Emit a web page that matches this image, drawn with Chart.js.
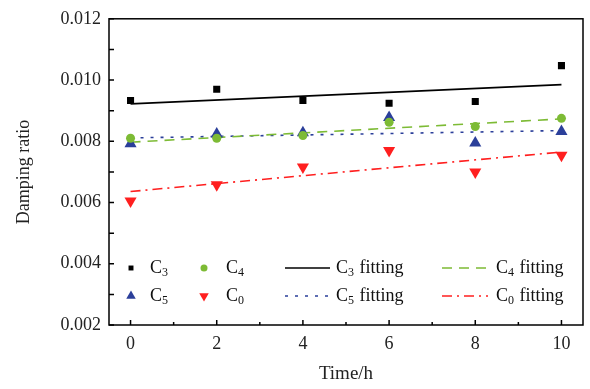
<!DOCTYPE html>
<html>
<head>
<meta charset="utf-8">
<script src="https://cdn.jsdelivr.net/npm/chart.js@4/dist/chart.umd.min.js"></script>
<style>
  html, body { margin: 0; padding: 0; background: #fff; }
  #wrap { width: 590px; height: 389px; }
</style>
</head>
<body>
<div id="wrap"><canvas id="c" width="590" height="389"></canvas></div>
<script>
// measured points (time in h)
var times = [0, 2, 4, 6, 8, 10];
var c3 = [0.00933, 0.0097, 0.00933, 0.00924, 0.0093, 0.01047];
var c4 = [0.0081, 0.0081, 0.00819, 0.00862, 0.00848, 0.00875];
var c5 = [0.00792, 0.00824, 0.00828, 0.00878, 0.00794, 0.00832];
var c0 = [0.00605, 0.00658, 0.00716, 0.0077, 0.0070, 0.00754];

// fitted lines, end points
var fitTimes = [0, 10];
var c3Fit = [0.00922, 0.00985];
var c4Fit = [0.00797, 0.00873];
var c5Fit = [0.00811, 0.00835];
var c0Fit = [0.00636, 0.00765];

var xTicks = [0, 2, 4, 6, 8, 10];
var yTicks = [0.002, 0.004, 0.006, 0.008, 0.010, 0.012];

var FONT = '"Liberation Serif", "Times New Roman", serif';
var GREEN = '#7dbb35';
var BLUE = '#2b3f9a';
var RED = '#ff1f1f';

function pts(xs, ys) {
    return xs.map(function (x, i) { return { x: x, y: ys[i] }; });
}

// inward ticks + closed frame
var frame = {
    id: 'frame',
    afterDraw: function (chart) {
        var ctx = chart.ctx, a = chart.chartArea;
        var xs = chart.scales.x, ys = chart.scales.y;
        ctx.save();
        ctx.strokeStyle = '#000';
        ctx.lineWidth = 1.5;
        ctx.strokeRect(a.left, a.top, a.right - a.left, a.bottom - a.top);
        ctx.beginPath();
        for (var v = 0; v <= 10; v++) {
            var px = xs.getPixelForValue(v);
            var len = v % 2 === 0 ? 5 : 3;
            ctx.moveTo(px, a.bottom);
            ctx.lineTo(px, a.bottom - len);
        }
        for (var k = 2; k <= 12; k++) {
            var py = ys.getPixelForValue(k / 1000);
            ctx.moveTo(a.left, py);
            ctx.lineTo(a.left + 5, py);
        }
        ctx.stroke();
        ctx.restore();
    }
};

function subText(ctx, x, y, base, sub, rest) {
    ctx.font = '18px ' + FONT;
    ctx.fillText(base, x, y);
    x += ctx.measureText(base).width;
    ctx.font = '12px ' + FONT;
    ctx.fillText(sub, x, y + 5);
    x += ctx.measureText(sub).width;
    if (rest) {
        ctx.font = '18px ' + FONT;
        ctx.fillText(rest, x + 1, y);
    }
}

// legend in two rows at the bottom-left of the plot
var legendBox = {
    id: 'legendBox',
    afterDraw: function (chart) {
        var ctx = chart.ctx;
        var rows = [268, 296];
        var H = Chart.helpers;
        ctx.save();
        ctx.fillStyle = '#000';
        ctx.textBaseline = 'middle';

        var marks = [
            { ds: 0, x: 131, tx: 150, row: 0, sub: '3', r: 3.5 },
            { ds: 1, x: 204, tx: 226, row: 0, sub: '4', r: 3.5 },
            { ds: 2, x: 131, tx: 150, row: 1, sub: '5', r: 5.5 },
            { ds: 3, x: 204, tx: 226, row: 1, sub: '0', r: 5.5 }
        ];
        marks.forEach(function (m) {
            var d = chart.data.datasets[m.ds];
            ctx.fillStyle = d.backgroundColor;
            ctx.strokeStyle = d.backgroundColor;
            H.drawPoint(ctx, { pointStyle: d.pointStyle, rotation: d.rotation || 0, radius: m.r, borderWidth: 0 }, m.x, rows[m.row]);
            ctx.fillStyle = '#111';
            subText(ctx, m.tx, rows[m.row], 'C', m.sub);
        });

        var lines = [
            { ds: 4, x0: 285, x1: 330, tx: 336, row: 0, sub: '3' },
            { ds: 5, x0: 442, x1: 488, tx: 496, row: 0, sub: '4' },
            { ds: 6, x0: 285, x1: 330, tx: 336, row: 1, sub: '5' },
            { ds: 7, x0: 442, x1: 488, tx: 496, row: 1, sub: '0' }
        ];
        lines.forEach(function (l) {
            var d = chart.data.datasets[l.ds];
            ctx.strokeStyle = d.borderColor;
            ctx.lineWidth = d.borderWidth;
            ctx.setLineDash(d.borderDash || []);
            ctx.beginPath();
            ctx.moveTo(l.x0, rows[l.row]);
            ctx.lineTo(l.x1, rows[l.row]);
            ctx.stroke();
            ctx.setLineDash([]);
            ctx.fillStyle = '#111';
            subText(ctx, l.tx, rows[l.row], 'C', l.sub, ' fitting');
        });
        ctx.restore();
    }
};

new Chart(document.getElementById('c'), {
    type: 'scatter',
    data: {
        datasets: [
            { label: 'C3', data: pts(times, c3), pointStyle: 'rect', pointRadius: 5, backgroundColor: '#000', borderWidth: 0 },
            { label: 'C4', data: pts(times, c4), pointStyle: 'circle', pointRadius: 4.5, backgroundColor: GREEN, borderWidth: 0 },
            { label: 'C5', data: pts(times, c5), pointStyle: 'triangle', pointRadius: 7, backgroundColor: BLUE, borderWidth: 0 },
            { label: 'C0', data: pts(times, c0), pointStyle: 'triangle', rotation: 180, pointRadius: 7, backgroundColor: RED, borderWidth: 0 },
            { label: 'C3 fitting', data: pts(fitTimes, c3Fit), showLine: true, pointRadius: 0, borderColor: '#000', borderWidth: 1.6 },
            { label: 'C4 fitting', data: pts(fitTimes, c4Fit), showLine: true, pointRadius: 0, borderColor: GREEN, borderWidth: 1.6, borderDash: [10, 7] },
            { label: 'C5 fitting', data: pts(fitTimes, c5Fit), showLine: true, pointRadius: 0, borderColor: BLUE, borderWidth: 1.6, borderDash: [3, 7] },
            { label: 'C0 fitting', data: pts(fitTimes, c0Fit), showLine: true, pointRadius: 0, borderColor: RED, borderWidth: 1.6, borderDash: [10, 5, 2, 5] }
        ]
    },
    options: {
        responsive: false,
        animation: false,
        layout: { padding: { top: 18, right: 4, left: 0, bottom: 0 } },
        plugins: {
            legend: { display: false },
            tooltip: { enabled: false }
        },
        scales: {
            x: {
                type: 'linear',
                min: -0.5,
                max: 10.5,
                afterBuildTicks: function (s) { s.ticks = xTicks.map(function (v) { return { value: v }; }); },
                afterFit: function (s) { s.height = 64; },
                grid: { display: false, drawTicks: false },
                border: { display: false },
                ticks: { color: '#222', font: { family: FONT, size: 18 }, padding: 8, maxRotation: 0 },
                title: { display: true, text: 'Time/h', color: '#222', font: { family: FONT, size: 19 }, padding: { top: 8 } }
            },
            y: {
                min: 0.002,
                max: 0.012,
                afterBuildTicks: function (s) { s.ticks = yTicks.map(function (v) { return { value: v }; }); },
                afterFit: function (s) { s.width = 109; },
                grid: { display: false, drawTicks: false },
                border: { display: false },
                ticks: {
                    color: '#222',
                    font: { family: FONT, size: 18 },
                    padding: 8,
                    callback: function (v) { return v.toFixed(3); }
                },
                title: { display: true, text: 'Damping ratio', color: '#222', font: { family: FONT, size: 18 }, padding: { top: 13, bottom: 2 } }
            }
        }
    },
    plugins: [frame, legendBox]
});
</script>
</body>
</html>
